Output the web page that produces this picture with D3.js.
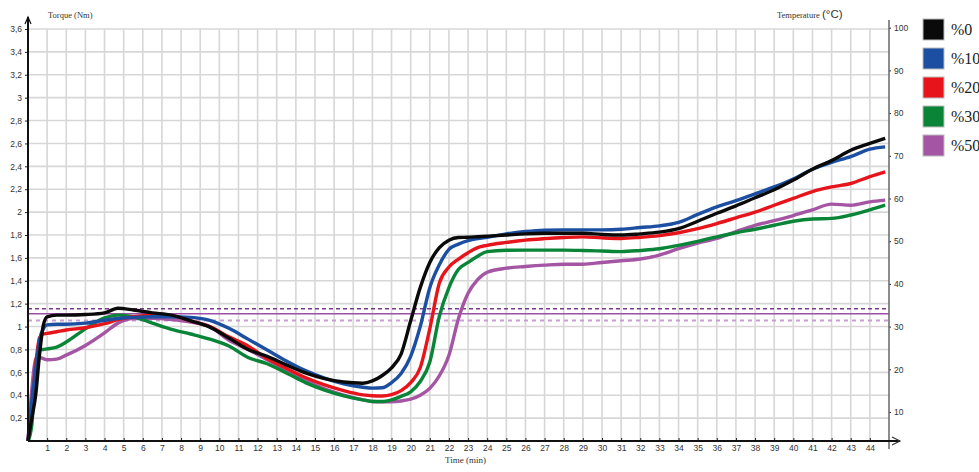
<!DOCTYPE html>
<html>
<head>
<meta charset="utf-8">
<script src="https://cdn.jsdelivr.net/npm/d3@7"></script>
<style>
  html, body { margin: 0; padding: 0; background: #fff; }
  #chart { width: 979px; height: 472px; }
  .tick text { font-family: "Liberation Sans", Arial, sans-serif; font-size: 8.5px; fill: #333; }
  .tick line { stroke: #222; }
</style>
</head>
<body>
<div id="chart"></div>
<script>
// time axis (min), shared by all series
var times = [0, 0.2, 0.4, 0.6, 0.8, 1, 1.5, 2, 3, 4, 4.7, 5.5, 6.5, 7.5, 8.5, 9.5, 10.5, 11.5,
             12.5, 13.5, 14.5, 15.5, 16.5, 17.5, 18, 18.5, 19, 19.5, 20, 20.5, 21, 21.5, 22, 22.5,
             23, 23.5, 24, 25, 26, 27, 28, 29, 30, 31, 32, 33, 34, 35, 36, 37, 38, 39, 40, 41,
             42, 43, 44, 44.8];

// torque (Nm)
var torque0  = [0, 0.2, 0.4, 0.75, 1.01, 1.085, 1.1, 1.1, 1.105, 1.12, 1.16, 1.145, 1.12, 1.1, 1.05, 0.995, 0.9, 0.8,
                0.74, 0.665, 0.595, 0.545, 0.515, 0.505, 0.525, 0.57, 0.64, 0.76, 1.05, 1.34, 1.56, 1.69, 1.755, 1.778,
                1.78, 1.785, 1.79, 1.8, 1.81, 1.815, 1.815, 1.815, 1.805, 1.8, 1.81, 1.825, 1.855, 1.92, 1.99, 2.055,
                2.125, 2.195, 2.28, 2.375, 2.45, 2.54, 2.6, 2.645];
var torque10 = [0, 0.35, 0.62, 0.88, 0.98, 1.015, 1.02, 1.02, 1.03, 1.055, 1.07, 1.08, 1.086, 1.086, 1.08, 1.055, 0.985, 0.89,
                0.795, 0.7, 0.615, 0.55, 0.5, 0.47, 0.462, 0.465, 0.51, 0.59, 0.74, 1.0, 1.34, 1.54, 1.675, 1.72,
                1.75, 1.768, 1.78, 1.81, 1.83, 1.842, 1.845, 1.845, 1.845, 1.85, 1.865, 1.88, 1.91, 1.98, 2.046, 2.1,
                2.16, 2.22, 2.29, 2.375, 2.435, 2.485, 2.55, 2.57];
var torque20 = [0, 0.32, 0.66, 0.9, 0.935, 0.94, 0.955, 0.97, 0.99, 1.025, 1.06, 1.086, 1.098, 1.095, 1.05, 1.0, 0.91, 0.83,
                0.72, 0.635, 0.555, 0.49, 0.44, 0.403, 0.395, 0.393, 0.405, 0.44, 0.51, 0.64, 0.98, 1.38, 1.52, 1.59,
                1.645, 1.69, 1.71, 1.735, 1.755, 1.768, 1.778, 1.784, 1.775, 1.77, 1.78, 1.795, 1.82, 1.855, 1.9, 1.95,
                2.0, 2.06, 2.12, 2.18, 2.22, 2.25, 2.31, 2.352];
var torque30 = [0, 0.14, 0.67, 0.795, 0.8, 0.805, 0.82, 0.865, 0.98, 1.075, 1.1, 1.086, 1.03, 0.975, 0.935, 0.89, 0.83, 0.73,
                0.675, 0.595, 0.51, 0.445, 0.395, 0.36, 0.345, 0.345, 0.36, 0.39, 0.43, 0.52, 0.69, 1.09, 1.34, 1.5,
                1.56, 1.615, 1.655, 1.667, 1.668, 1.668, 1.668, 1.665, 1.66, 1.655, 1.665, 1.68, 1.71, 1.745, 1.784, 1.82,
                1.85, 1.885, 1.92, 1.94, 1.945, 1.975, 2.02, 2.06];
var torque50 = [0, 0.45, 0.72, 0.73, 0.72, 0.71, 0.715, 0.75, 0.835, 0.945, 1.03, 1.07, 1.072, 1.062, 1.04, 1.0, 0.88, 0.8,
                0.71, 0.62, 0.53, 0.455, 0.4, 0.36, 0.345, 0.343, 0.343, 0.35, 0.365, 0.4, 0.46, 0.57, 0.75, 1.07,
                1.29, 1.41, 1.475, 1.51, 1.525, 1.537, 1.545, 1.545, 1.56, 1.575, 1.59, 1.625, 1.68, 1.73, 1.77, 1.83,
                1.885, 1.925, 1.97, 2.02, 2.07, 2.06, 2.09, 2.105];

var seriesNames  = ["%0", "%10", "%20", "%30", "%50"];
var seriesColors = ["#0a0a0a", "#1c4fa1", "#e8141c", "#0a8538", "#a455a3"];
var seriesValues = [torque0, torque10, torque20, torque30, torque50];

// tick values
var timeTicks   = d3.range(1, 45);
var torqueTicks = [0.2, 0.4, 0.6, 0.8, 1, 1.2, 1.4, 1.6, 1.8, 2, 2.2, 2.4, 2.6, 2.8, 3, 3.2, 3.4, 3.6];
var tempTicks   = [10, 20, 30, 40, 50, 60, 70, 80, 90, 100];

// reference lines (temperature, °C)
var refTemps  = [34.2, 33, 31.4];
var refColors = ["#7a3a8c", "#9b4fa6", "#c99ed2"];
var refDash   = ["4,3", null, "4,4"];

var width = 979, height = 472;

var svg = d3.select("#chart").append("svg")
    .attr("width", width)
    .attr("height", height)
    .style("font-family", "Liberation Sans, Arial, sans-serif");

var x  = d3.scaleLinear().domain([0, 45]).range([28, 889]);
var y  = d3.scaleLinear().domain([0, 3.6]).range([441, 29]);
var yT = d3.scaleLinear().domain([0, 100]).range([454.7, 27.7]);

// grid
var grid = svg.append("g").attr("class", "grid");
grid.selectAll(".vg").data(timeTicks).enter().append("line")
    .attr("x1", function(d) { return x(d); }).attr("x2", function(d) { return x(d); })
    .attr("y1", y(3.6)).attr("y2", y(0))
    .attr("stroke", "#d7d7d7").attr("stroke-width", 1.6);
grid.selectAll(".hg").data(torqueTicks).enter().append("line")
    .attr("x1", x(0)).attr("x2", x(45))
    .attr("y1", function(d) { return y(d); }).attr("y2", function(d) { return y(d); })
    .attr("stroke", "#d7d7d7").attr("stroke-width", 1.6);

// reference lines
svg.selectAll(".ref").data(refTemps).enter().append("line")
    .attr("x1", x(0)).attr("x2", x(45))
    .attr("y1", function(d) { return yT(d); }).attr("y2", function(d) { return yT(d); })
    .attr("stroke", function(d, i) { return refColors[i]; })
    .attr("stroke-width", function(d, i) { return i == 2 ? 2 : 1.5; })
    .attr("stroke-dasharray", function(d, i) { return refDash[i]; });

// curves
var line = d3.line()
    .x(function(d, i) { return x(times[i]); })
    .y(function(d) { return y(d); })
    .curve(d3.curveMonotoneX);

var order = [4, 3, 2, 1, 0];
svg.selectAll(".curve").data(order).enter().append("path")
    .attr("d", function(k) { return line(seriesValues[k]); })
    .attr("fill", "none")
    .attr("stroke", function(k) { return seriesColors[k]; })
    .attr("stroke-width", 3.4)
    .attr("stroke-linejoin", "round");

// axes
var fmt = function(d) { return String(d).replace(".", ","); };

var xAxis = svg.append("g")
    .attr("transform", "translate(0," + y(0) + ")")
    .call(d3.axisBottom(x).tickValues(timeTicks).tickSize(-3).tickPadding(4));
var yAxis = svg.append("g")
    .attr("transform", "translate(" + x(0) + ",0)")
    .call(d3.axisLeft(y).tickValues(torqueTicks).tickFormat(fmt).tickSize(3).tickPadding(3));
var tAxis = svg.append("g")
    .attr("transform", "translate(" + x(45) + ",0)")
    .call(d3.axisRight(yT).tickValues(tempTicks).tickSize(2).tickPadding(3));
xAxis.select(".domain").remove();
yAxis.select(".domain").remove();
tAxis.select(".domain").remove();

// axis lines with arrows
svg.append("line").attr("x1", x(45)).attr("x2", x(45)).attr("y1", 20).attr("y2", 449)
    .attr("stroke", "#666").attr("stroke-width", 1.5);
svg.append("line").attr("x1", x(0)).attr("x2", 900).attr("y1", y(0)).attr("y2", y(0))
    .attr("stroke", "#111").attr("stroke-width", 2);
svg.append("path").attr("d", "M892,437L900,441L892,445")
    .attr("fill", "none").attr("stroke", "#333").attr("stroke-width", 1.2);
svg.append("line").attr("x1", x(0)).attr("x2", x(0)).attr("y1", y(0)).attr("y2", 17)
    .attr("stroke", "#111").attr("stroke-width", 2);
svg.append("path").attr("d", "M25,24L28,17L31,24")
    .attr("fill", "none").attr("stroke", "#111").attr("stroke-width", 1.2);

// titles
svg.append("text").attr("x", 48).attr("y", 18)
    .style("font-family", "Liberation Serif, Times New Roman, serif").style("font-size", "8.5px").attr("fill", "#333")
    .text("Torque (Nm)");
var tt = svg.append("text").attr("x", 777).attr("y", 18)
    .style("font-family", "Liberation Serif, Times New Roman, serif").style("font-size", "8.5px").attr("fill", "#333");
tt.append("tspan").text("Temperature ");
tt.append("tspan").style("font-family", "Liberation Sans, Arial, sans-serif").style("font-size", "11.5px").text("(°C)");
svg.append("text").attr("x", 445).attr("y", 463)
    .style("font-family", "Liberation Serif, Times New Roman, serif").style("font-size", "9px").attr("fill", "#333")
    .text("Time (min)");

// legend
var legend = svg.selectAll(".legend").data(seriesNames).enter().append("g")
    .attr("class", "legend")
    .attr("transform", function(d, i) { return "translate(923," + (19 + i * 29) + ")"; });
legend.append("rect")
    .attr("width", 21).attr("height", 21)
    .attr("fill", function(d, i) { return seriesColors[i]; })
    .attr("stroke", "#bbb").attr("stroke-width", 1);
legend.append("text")
    .attr("x", 28).attr("y", 16)
    .style("font-family", "Liberation Serif, Times New Roman, serif").style("font-size", "16px").attr("fill", "#222")
    .text(function(d) { return d; });
</script>
</body>
</html>
